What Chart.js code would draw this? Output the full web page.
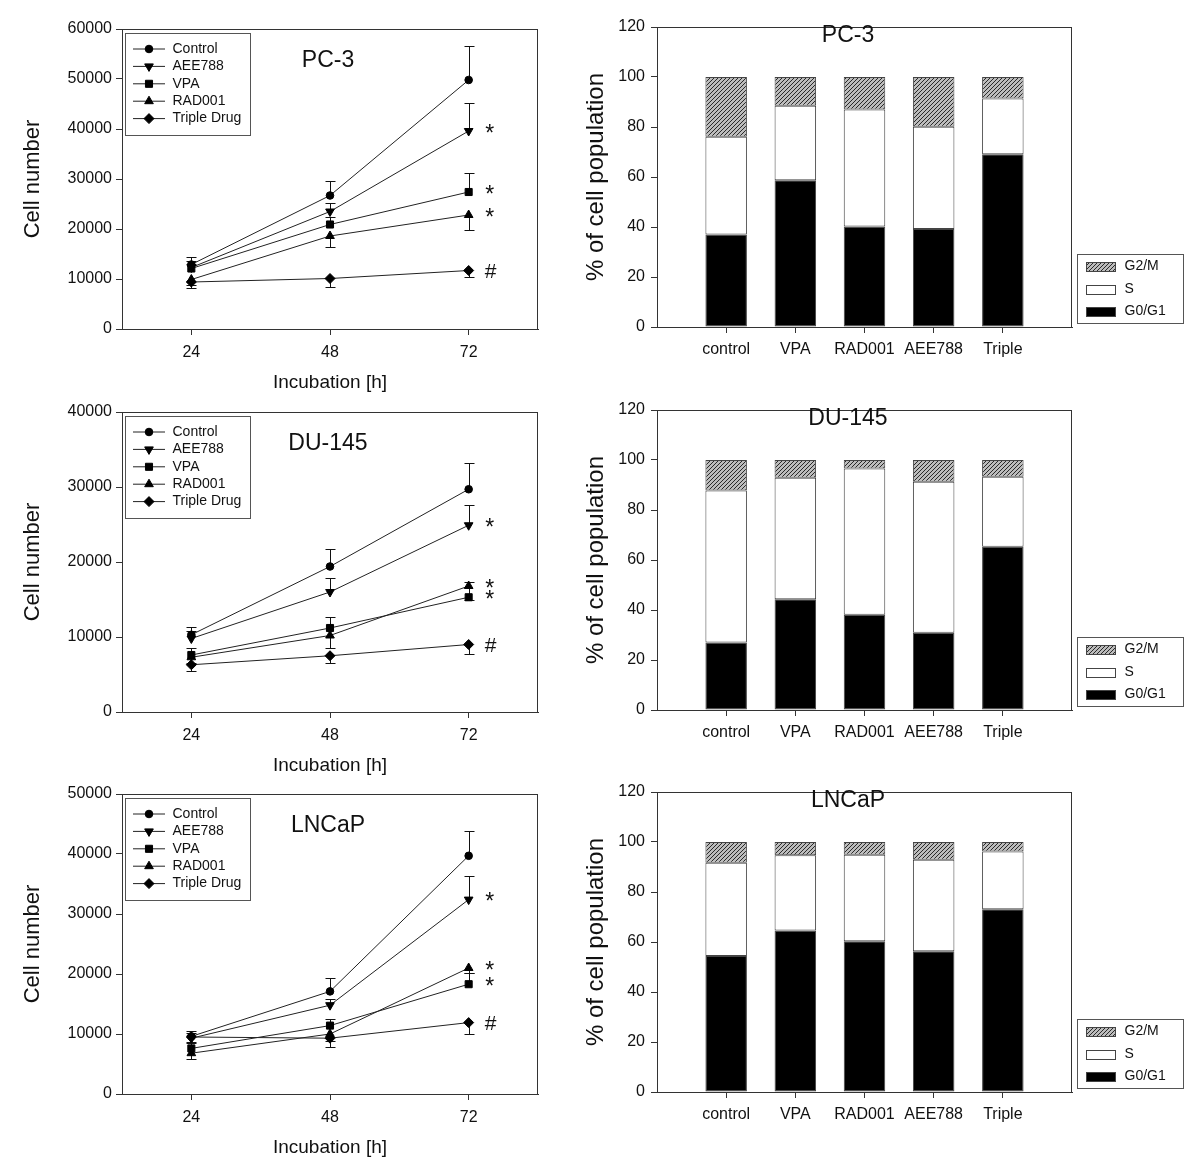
<!DOCTYPE html>
<html>
<head>
<meta charset="utf-8">
<script src="https://cdn.jsdelivr.net/npm/chart.js@4.4.1/dist/chart.umd.min.js"></script>
<style>
html, body { margin: 0; padding: 0; background: #fff; }
body { position: relative; width: 1200px; height: 1173px; overflow: hidden; }
canvas { position: absolute; }
</style>
</head>
<body>
<canvas id="growthPC3" style="left:0;top:0" width="560" height="400"></canvas>
<canvas id="growthDU145" style="left:0;top:383px" width="560" height="400"></canvas>
<canvas id="growthLNCaP" style="left:0;top:765px" width="560" height="400"></canvas>
<canvas id="phasePC3" style="left:560px;top:0" width="640" height="400"></canvas>
<canvas id="phaseDU145" style="left:560px;top:383px" width="640" height="400"></canvas>
<canvas id="phaseLNCaP" style="left:560px;top:765px" width="640" height="400"></canvas>
<script>
// growth curves: cell number after 24/48/72 h
const hours = [24, 48, 72];
const drugNames = ['Control', 'AEE788', 'VPA', 'RAD001', 'Triple Drug'];
const errorSide = [1, 1, 1, -1, -1]; // error bars drawn up or down

const pc3Means = [
  [12900, 26700, 49800],
  [12300, 23500, 39600],
  [12100, 20900, 27400],
  [9900, 18600, 22800],
  [9400, 10100, 11700]
];
const pc3Errors = [
  [1600, 3000, 6800],
  [1400, 1800, 5600],
  [1000, 1600, 3800],
  [1000, 2200, 2900],
  [1100, 1700, 1200]
];
const pc3Marks = ['', '*', '*', '*', '#'];

const du145Means = [
  [10300, 19400, 29700],
  [9800, 16000, 24900],
  [7600, 11200, 15300],
  [7300, 10200, 16800],
  [6300, 7500, 9000]
];
const du145Errors = [
  [1000, 2300, 3500],
  [1000, 1800, 2700],
  [1000, 1500, 2000],
  [700, 1700, 1900],
  [800, 900, 1300]
];
const du145Marks = ['', '*', '*', '*', '#'];

const lncapMeans = [
  [9600, 17100, 39700],
  [9300, 14800, 32400],
  [7600, 11400, 18300],
  [6800, 10000, 21000],
  [9500, 9300, 11900]
];
const lncapErrors = [
  [900, 2200, 4200],
  [800, 1000, 3900],
  [900, 1100, 1800],
  [900, 1200, 900],
  [800, 1450, 1900]
];
const lncapMarks = ['', '*', '*', '*', '#'];

// cell cycle distribution (%)
const phaseLabels = ['control', 'VPA', 'RAD001', 'AEE788', 'Triple'];
const pc3G0G1 = [37.0, 58.7, 40.2, 39.2, 69.1];
const pc3S = [39.1, 29.8, 46.8, 40.9, 22.3];
const pc3G2M = [23.9, 11.5, 13.0, 19.9, 8.6];
const du145G0G1 = [27.0, 44.3, 38.1, 30.9, 65.3];
const du145S = [60.8, 48.6, 58.5, 60.4, 28.0];
const du145G2M = [12.2, 7.1, 3.4, 8.7, 6.7];
const lncapG0G1 = [54.4, 64.6, 60.3, 56.3, 73.1];
const lncapS = [37.3, 30.1, 34.6, 36.6, 23.1];
const lncapG2M = [8.3, 5.3, 5.1, 7.1, 3.8];

Chart.defaults.font.family = '"Liberation Sans", Arial, sans-serif';
Chart.defaults.color = '#111';

const pointStyles = ['circle', 'triangle', 'rect', 'triangle', 'rectRot'];
const pointRotations = [0, 180, 0, 0, 0];
const pointRadii = [3.8, 5, 5, 5, 5];
const FONT = '"Liberation Sans", Arial, sans-serif';

function drawMarker(ctx, i, x, y) {
    ctx.fillStyle = '#000';
    ctx.strokeStyle = '#000';
    ctx.lineWidth = 1;
    if (Chart.helpers && Chart.helpers.drawPoint) {
        Chart.helpers.drawPoint(ctx, {pointStyle: pointStyles[i], rotation: pointRotations[i], radius: pointRadii[i], borderWidth: 1}, x, y);
    } else {
        ctx.beginPath();
        ctx.arc(x, y, 4, 0, Math.PI * 2);
        ctx.fill();
    }
}

function frame(chart) {
    const ca = chart.chartArea;
    const ctx = chart.ctx;
    ctx.save();
    ctx.strokeStyle = '#333';
    ctx.lineWidth = 1;
    ctx.strokeRect(Math.round(ca.left) + 0.5, Math.round(ca.top) + 0.5, Math.round(ca.right - ca.left) - 1, Math.round(ca.bottom - ca.top));
    ctx.restore();
}

function growthExtras(title, errors, marks) {
    return {
        id: 'growthExtras',
        beforeDatasetsDraw(chart) {
            const ctx = chart.ctx;
            const yScale = chart.scales.y;
            ctx.save();
            ctx.strokeStyle = '#111';
            ctx.lineWidth = 1;
            chart.data.datasets.forEach(function(ds, i) {
                chart.getDatasetMeta(i).data.forEach(function(pt, j) {
                    const yEnd = yScale.getPixelForValue(ds.data[j].y + errorSide[i] * errors[i][j]);
                    const x = Math.round(pt.x) + 0.5;
                    ctx.beginPath();
                    ctx.moveTo(x, pt.y);
                    ctx.lineTo(x, Math.round(yEnd) + 0.5);
                    ctx.moveTo(x - 5, Math.round(yEnd) + 0.5);
                    ctx.lineTo(x + 5, Math.round(yEnd) + 0.5);
                    ctx.stroke();
                });
            });
            ctx.restore();
        },
        afterDraw(chart) {
            const ctx = chart.ctx;
            const ca = chart.chartArea;
            const xScale = chart.scales.x;
            const yScale = chart.scales.y;
            frame(chart);
            ctx.save();
            // panel title
            ctx.fillStyle = '#111';
            ctx.font = '23px ' + FONT;
            ctx.textAlign = 'center';
            ctx.textBaseline = 'middle';
            ctx.fillText(title, xScale.getPixelForValue(48) - 2, ca.top + 32);
            // significance marks
            marks.forEach(function(m, i) {
                if (!m) return;
                const vals = chart.data.datasets[i].data;
                const y = yScale.getPixelForValue(vals[vals.length - 1].y);
                const x = xScale.getPixelForValue(72) + 21;
                ctx.textBaseline = 'alphabetic';
                if (m === '*') {
                    ctx.font = '23px ' + FONT;
                    ctx.fillText(m, x, y + 9.5);
                } else {
                    ctx.font = '21px ' + FONT;
                    ctx.fillText(m, x + 1, y + 7);
                }
            });
            // legend box
            const bx = Math.round(ca.left) + 3.5, by = Math.round(ca.top) + 4.5;
            ctx.strokeStyle = '#555';
            ctx.lineWidth = 1;
            ctx.strokeRect(bx, by, 125, 102);
            ctx.font = '14px ' + FONT;
            ctx.textAlign = 'left';
            ctx.textBaseline = 'middle';
            chart.data.datasets.forEach(function(ds, i) {
                const y = ca.top + 20 + i * 17.4;
                ctx.strokeStyle = '#222';
                ctx.beginPath();
                ctx.moveTo(ca.left + 11, y);
                ctx.lineTo(ca.left + 43, y);
                ctx.stroke();
                drawMarker(ctx, i, ca.left + 27, y);
                ctx.fillStyle = '#111';
                ctx.fillText(ds.label, ca.left + 50.5, y);
            });
            ctx.restore();
        }
    };
}

function growthChart(id, title, yMax, means, errors, marks) {
    const datasets = means.map(function(vals, i) {
        return {
            label: drugNames[i],
            data: vals.map(function(v, j) { return {x: hours[j], y: v}; }),
            borderColor: '#222',
            borderWidth: 1,
            pointStyle: pointStyles[i],
            pointRotation: pointRotations[i],
            pointRadius: pointRadii[i],
            pointBackgroundColor: '#000',
            pointBorderColor: '#000',
            pointBorderWidth: 1,
            tension: 0,
            fill: false
        };
    });
    new Chart(document.getElementById(id), {
        type: 'line',
        data: {datasets: datasets},
        options: {
            responsive: false,
            animation: false,
            layout: {padding: {left: 0, top: 29, right: 22, bottom: 0}},
            plugins: {legend: {display: false}, tooltip: {enabled: false}},
            scales: {
                x: {
                    type: 'linear',
                    min: 12,
                    max: 84,
                    afterBuildTicks: function(s) { s.ticks = hours.map(function(h) { return {value: h}; }); },
                    afterFit: function(s) { s.height = 71; },
                    grid: {drawOnChartArea: false, tickLength: 6, color: '#333'},
                    border: {color: '#333'},
                    ticks: {font: {size: 16}, color: '#111', padding: 8},
                    title: {display: true, text: 'Incubation [h]', font: {size: 19}, color: '#111', padding: {top: 0, bottom: 6}}
                },
                y: {
                    min: 0,
                    max: yMax,
                    afterFit: function(s) { s.width = 122; },
                    grid: {drawOnChartArea: false, tickLength: 6, color: '#333'},
                    border: {color: '#333'},
                    ticks: {stepSize: 10000, font: {size: 16}, color: '#111', padding: 4, callback: function(v) { return String(v); }},
                    title: {display: true, text: 'Cell number', font: {size: 22}, color: '#111', padding: {top: 20, bottom: 0}}
                }
            }
        },
        plugins: [growthExtras(title, errors, marks)]
    });
}

function makeHatch() {
    const c = document.createElement('canvas');
    c.width = 4;
    c.height = 4;
    const g = c.getContext('2d');
    g.fillStyle = '#bcbcbc';
    g.fillRect(0, 0, 4, 4);
    g.strokeStyle = '#2a2a2a';
    g.lineWidth = 1;
    g.beginPath();
    g.moveTo(0, 4); g.lineTo(4, 0);
    g.moveTo(-1, 1); g.lineTo(1, -1);
    g.moveTo(3, 5); g.lineTo(5, 3);
    g.stroke();
    return g.createPattern(c, 'repeat');
}
const hatch = makeHatch();

function phaseExtras(title) {
    return {
        id: 'phaseExtras',
        afterDraw(chart) {
            const ctx = chart.ctx;
            const ca = chart.chartArea;
            frame(chart);
            ctx.save();
            ctx.fillStyle = '#111';
            ctx.font = '23px ' + FONT;
            ctx.textAlign = 'center';
            ctx.textBaseline = 'middle';
            ctx.fillText(title, ca.left + 191, ca.top + 9);
            // legend at right of plot
            const bx = Math.round(ca.right) + 5.5, by = Math.round(ca.bottom) - 72.5;
            ctx.strokeStyle = '#555';
            ctx.lineWidth = 1;
            ctx.strokeRect(bx, by, 106, 69);
            ctx.font = '14px ' + FONT;
            ctx.textAlign = 'left';
            const order = [2, 1, 0];
            order.forEach(function(di, k) {
                const ds = chart.data.datasets[di];
                const y = by + 12 + k * 22.5;
                ctx.fillStyle = ds.backgroundColor;
                ctx.fillRect(bx + 9, Math.round(y - 4.5), 29, 9);
                ctx.strokeStyle = '#444';
                ctx.strokeRect(bx + 9, Math.round(y - 4.5) + 0.5, 29, 9);
                ctx.fillStyle = '#111';
                ctx.fillText(ds.label, bx + 47, y);
            });
            ctx.restore();
        }
    };
}

function phaseChart(id, title, g0, s, g2m) {
    const toPts = function(arr) { return arr.map(function(v, i) { return {x: i + 1, y: v}; }); };
    const common = {borderColor: '#444', borderWidth: 1, borderSkipped: false, barPercentage: 0.6, categoryPercentage: 1};
    new Chart(document.getElementById(id), {
        type: 'bar',
        data: {
            datasets: [
                Object.assign({label: 'G0/G1', data: toPts(g0), backgroundColor: '#000'}, common),
                Object.assign({label: 'S', data: toPts(s), backgroundColor: '#fff'}, common),
                Object.assign({label: 'G2/M', data: toPts(g2m), backgroundColor: hatch}, common)
            ]
        },
        options: {
            responsive: false,
            animation: false,
            layout: {padding: {left: 0, top: 27, right: 128, bottom: 0}},
            plugins: {legend: {display: false}, tooltip: {enabled: false}},
            scales: {
                x: {
                    type: 'linear',
                    min: 0,
                    max: 6,
                    stacked: true,
                    offset: false,
                    afterBuildTicks: function(sc) { sc.ticks = phaseLabels.map(function(l, i) { return {value: i + 1}; }); },
                    afterFit: function(sc) { sc.height = 73; },
                    grid: {offset: false, drawOnChartArea: false, tickLength: 6, color: '#333'},
                    border: {color: '#333'},
                    ticks: {font: {size: 16}, color: '#111', padding: 7, callback: function(v) { return phaseLabels[v - 1]; }}
                },
                y: {
                    stacked: true,
                    min: 0,
                    max: 120,
                    afterFit: function(sc) { sc.width = 97; },
                    grid: {drawOnChartArea: false, tickLength: 6, color: '#333'},
                    border: {color: '#333'},
                    ticks: {stepSize: 20, font: {size: 16}, color: '#111', padding: 6},
                    title: {display: true, text: '% of cell population', font: {size: 24}, color: '#111', padding: {top: 22, bottom: 0}}
                }
            }
        },
        plugins: [phaseExtras(title)]
    });
}

growthChart('growthPC3', 'PC-3', 60000, pc3Means, pc3Errors, pc3Marks);
growthChart('growthDU145', 'DU-145', 40000, du145Means, du145Errors, du145Marks);
growthChart('growthLNCaP', 'LNCaP', 50000, lncapMeans, lncapErrors, lncapMarks);
phaseChart('phasePC3', 'PC-3', pc3G0G1, pc3S, pc3G2M);
phaseChart('phaseDU145', 'DU-145', du145G0G1, du145S, du145G2M);
phaseChart('phaseLNCaP', 'LNCaP', lncapG0G1, lncapS, lncapG2M);
</script>
</body>
</html>
